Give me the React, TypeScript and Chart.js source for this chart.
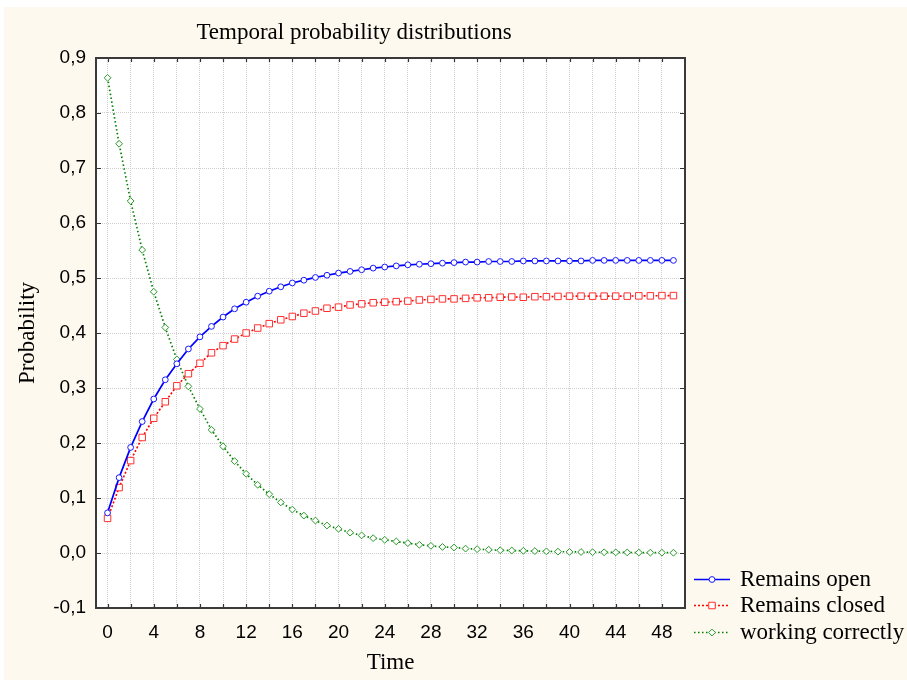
import React, { useEffect, useRef } from "react";
import { Chart, registerables } from "chart.js";

Chart.register(...registerables);

const TITLE = "Temporal probability distributions";
const X_TITLE = "Time";
const Y_TITLE = "Probability";

const TIME = [
  0, 1, 2, 3, 4, 5, 6, 7, 8, 9, 10, 11, 12, 13, 14, 15, 16, 17, 18, 19, 20, 21, 22, 23, 24,
  25, 26, 27, 28, 29, 30, 31, 32, 33, 34, 35, 36, 37, 38, 39, 40, 41, 42, 43, 44, 45, 46, 47, 48, 49,
];

const REMAINS_OPEN = [
  0.073, 0.137, 0.192, 0.239, 0.28, 0.315, 0.344, 0.371, 0.393, 0.412, 0.429, 0.444, 0.456, 0.467,
  0.476, 0.484, 0.491, 0.496, 0.501, 0.505, 0.509, 0.512, 0.515, 0.518, 0.52, 0.522, 0.524, 0.525,
  0.526, 0.527, 0.528, 0.529, 0.529, 0.53, 0.53, 0.53, 0.531, 0.531, 0.531, 0.531, 0.531, 0.531,
  0.532, 0.532, 0.532, 0.532, 0.532, 0.532, 0.532, 0.532,
];

const REMAINS_CLOSED = [
  0.063, 0.119, 0.168, 0.21, 0.245, 0.275, 0.304, 0.326, 0.345, 0.364, 0.377, 0.389, 0.4, 0.409,
  0.417, 0.424, 0.43, 0.436, 0.44, 0.445, 0.447, 0.451, 0.453, 0.455, 0.456, 0.457, 0.458, 0.46,
  0.461, 0.462, 0.462, 0.463, 0.464, 0.464, 0.465, 0.4655, 0.465, 0.466, 0.466, 0.4665, 0.467,
  0.467, 0.467, 0.467, 0.467, 0.467, 0.4675, 0.4675, 0.468, 0.468,
];

const WORKING_CORRECTLY = [
  0.864, 0.744, 0.64, 0.551, 0.475, 0.41, 0.352, 0.303, 0.262, 0.224, 0.194, 0.167, 0.144, 0.124,
  0.107, 0.092, 0.079, 0.068, 0.059, 0.05, 0.044, 0.037, 0.032, 0.027, 0.024, 0.021, 0.018, 0.015,
  0.013, 0.011, 0.01, 0.008, 0.007, 0.006, 0.005, 0.0045, 0.004, 0.0035, 0.003, 0.0025, 0.002,
  0.0018, 0.0015, 0.0013, 0.0011, 0.001, 0.0008, 0.0007, 0.0006, 0.0005,
];

const SERIES_NAMES = ["Remains open", "Remains closed", "working correctly"];

const X_TICKS = [0, 2, 4, 6, 8, 10, 12, 14, 16, 18, 20, 22, 24, 26, 28, 30, 32, 34, 36, 38, 40, 42, 44, 46, 48];
const X_TICK_LABELS = [0, 4, 8, 12, 16, 20, 24, 28, 32, 36, 40, 44, 48];
const Y_TICKS = [-0.1, 0, 0.1, 0.2, 0.3, 0.4, 0.5, 0.6, 0.7, 0.8, 0.9];

const SERIF = "'Liberation Serif', 'Times New Roman', serif";
const SANS = "'Liberation Sans', Arial, sans-serif";

type Style = {
  line: string;
  marker: string;
  dash: number[];
  width: number;
  shape: "circle" | "rect" | "rectRot";
  radius: number;
};

const STYLES: Style[] = [
  { line: "#0000ff", marker: "#1a1aff", dash: [], width: 1.7, shape: "circle", radius: 2.9 },
  { line: "#ff0000", marker: "#ff3030", dash: [2, 2], width: 1.6, shape: "rect", radius: 4.6 },
  { line: "#008000", marker: "#2a9a2a", dash: [1.5, 2.5], width: 1.7, shape: "rectRot", radius: 3.4 },
];

function drawMarker(ctx: CanvasRenderingContext2D, s: Style, x: number, y: number) {
  ctx.save();
  ctx.setLineDash([]);
  ctx.lineWidth = 1;
  ctx.strokeStyle = s.marker;
  ctx.fillStyle = "#ffffff";
  ctx.beginPath();
  if (s.shape === "circle") {
    ctx.arc(x, y, s.radius, 0, Math.PI * 2);
  } else if (s.shape === "rect") {
    const h = s.radius * Math.SQRT1_2;
    ctx.rect(x - h, y - h, 2 * h, 2 * h);
  } else {
    const r = s.radius;
    ctx.moveTo(x, y - r);
    ctx.lineTo(x + r, y);
    ctx.lineTo(x, y + r);
    ctx.lineTo(x - r, y);
    ctx.closePath();
  }
  ctx.fill();
  ctx.stroke();
  ctx.restore();
}

const decorPlugin = {
  id: "decor",
  beforeDraw(chart: any) {
    const { ctx, chartArea: a, width, height } = chart;
    ctx.save();
    ctx.fillStyle = "#fef9ee";
    ctx.fillRect(0, 0, width, height);
    ctx.fillStyle = "#ffffff";
    ctx.fillRect(a.left, a.top, a.right - a.left, a.bottom - a.top);
    ctx.restore();
  },
  afterDatasetsDraw(chart: any) {
    const { ctx, chartArea: a, scales } = chart;
    const xs = scales.x;
    const ys = scales.y;
    ctx.save();
    ctx.setLineDash([]);
    ctx.strokeStyle = "#333333";
    ctx.lineWidth = 1.2;
    ctx.beginPath();
    for (const v of X_TICKS) {
      const px = Math.round(xs.getPixelForValue(v)) + 0.5;
      ctx.moveTo(px, a.bottom);
      ctx.lineTo(px, a.bottom - 4);
      ctx.moveTo(px, a.top);
      ctx.lineTo(px, a.top + 4);
    }
    for (const v of Y_TICKS) {
      const py = Math.round(ys.getPixelForValue(v)) + 0.5;
      ctx.moveTo(a.left, py);
      ctx.lineTo(a.left + 5, py);
      ctx.moveTo(a.right, py);
      ctx.lineTo(a.right - 5, py);
    }
    ctx.stroke();
    ctx.strokeStyle = "#3a3a3a";
    ctx.lineWidth = 2;
    ctx.strokeRect(a.left, a.top, a.right - a.left, a.bottom - a.top);
    ctx.restore();
  },
  afterDraw(chart: any) {
    const { ctx } = chart;
    ctx.save();
    ctx.fillStyle = "#000000";
    ctx.font = `23px ${SERIF}`;
    ctx.textAlign = "center";
    ctx.textBaseline = "middle";
    ctx.fillText(TITLE, 350, 26);

    const rowsY = [572, 598, 625];
    SERIES_NAMES.forEach((name, i) => {
      const s = STYLES[i];
      const y = rowsY[i] + 0.5;
      ctx.save();
      ctx.strokeStyle = s.line;
      ctx.lineWidth = s.width;
      ctx.setLineDash(s.dash);
      ctx.beginPath();
      ctx.moveTo(690, y);
      ctx.lineTo(726, y);
      ctx.stroke();
      ctx.restore();
      drawMarker(ctx, s, 708, y);
      ctx.fillStyle = "#000000";
      ctx.font = `23px ${SERIF}`;
      ctx.textAlign = "left";
      ctx.textBaseline = "middle";
      ctx.fillText(name, 736, rowsY[i] + 1);
    });
    ctx.restore();
  },
};

export default function App() {
  const canvasRef = useRef<HTMLCanvasElement | null>(null);

  useEffect(() => {
    const canvas = canvasRef.current;
    if (!canvas) return;
    const seriesValues = [REMAINS_OPEN, REMAINS_CLOSED, WORKING_CORRECTLY];
    const datasets = seriesValues.map((vals, i) => {
      const s = STYLES[i];
      return {
        label: SERIES_NAMES[i],
        data: TIME.map((t, j) => ({ x: t, y: vals[j] })),
        borderColor: s.line,
        borderWidth: s.width,
        borderDash: s.dash,
        backgroundColor: "#ffffff",
        pointStyle: s.shape,
        pointRadius: s.radius,
        pointBorderColor: s.marker,
        pointBackgroundColor: "#ffffff",
        pointBorderWidth: 1,
        tension: 0,
        fill: false,
      };
    });

    const chart = new Chart(canvas, {
      type: "line",
      data: { datasets },
      plugins: [decorPlugin],
      options: {
        animation: false,
        responsive: false,
        maintainAspectRatio: false,
        layout: { padding: { left: 0, top: 51, right: 222, bottom: 0 } },
        plugins: {
          legend: { display: false },
          title: { display: false },
          tooltip: { enabled: false },
        },
        scales: {
          x: {
            type: "linear",
            min: -1,
            max: 50,
            afterBuildTicks: (scale: any) => {
              scale.ticks = X_TICKS.map((v) => ({ value: v }));
            },
            afterFit: (scale: any) => {
              scale.height = 72;
            },
            grid: { color: "#cfcfcf", lineWidth: 1, drawTicks: false },
            border: { display: false, dash: [1, 1] },
            ticks: {
              autoSkip: false,
              maxRotation: 0,
              padding: 13,
              color: "#000000",
              font: { family: SANS, size: 19 },
              callback: (v: any) => (X_TICK_LABELS.includes(Number(v)) ? String(v) : ""),
            },
            title: {
              display: true,
              text: X_TITLE,
              color: "#000000",
              font: { family: SERIF, size: 23 },
              padding: { top: 0, bottom: 3 },
            },
          },
          y: {
            type: "linear",
            min: -0.1,
            max: 0.9,
            afterBuildTicks: (scale: any) => {
              scale.ticks = Y_TICKS.map((v) => ({ value: v }));
            },
            afterFit: (scale: any) => {
              scale.width = 92;
            },
            grid: { color: "#cfcfcf", lineWidth: 1, drawTicks: false },
            border: { display: false, dash: [1, 1] },
            ticks: {
              padding: 10,
              color: "#000000",
              font: { family: SANS, size: 19 },
              callback: (v: any) => Number(v).toFixed(1).replace(".", ","),
            },
            title: {
              display: true,
              text: Y_TITLE,
              color: "#000000",
              font: { family: SERIF, size: 23 },
              padding: { top: 10, bottom: 0 },
            },
          },
        },
      } as any,
    });

    return () => {
      chart.destroy();
    };
  }, []);

  return (
    <div
      style={{
        position: "absolute",
        left: 4,
        top: 7,
        width: 903,
        height: 673,
        background: "#fef9ee",
      }}
    >
      <canvas ref={canvasRef} width={903} height={673} style={{ display: "block", width: 903, height: 673 }} />
    </div>
  );
}
